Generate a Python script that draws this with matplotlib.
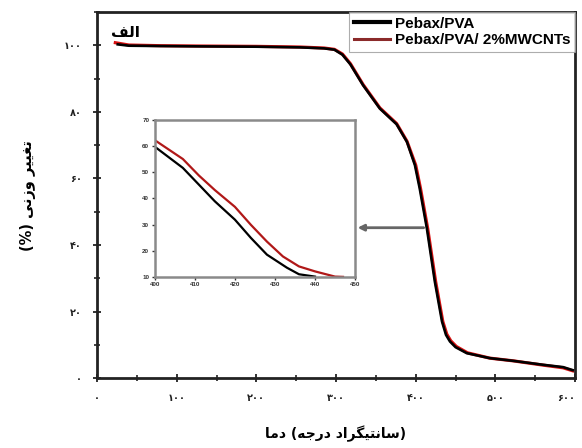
import matplotlib
matplotlib.use("Agg")
import matplotlib.pyplot as plt
from matplotlib.ticker import MultipleLocator

# TGA curves (main plot)
temp_pva = [26, 40, 80, 130, 200, 255, 285, 298, 308, 318, 334, 355, 376, 389, 399, 405,
            414, 424, 433, 438, 443, 450, 464, 493, 522, 560, 585, 597]
mass_pva = [100.3, 99.9, 99.8, 99.7, 99.6, 99.4, 99.1, 98.7, 97.2, 94.3, 88.0, 81.0, 76.3, 71.0, 64.0, 57.0,
            45.0, 29.0, 17.0, 13.0, 11.0, 9.3, 7.5, 6.0, 5.2, 4.0, 3.3, 2.4]
temp_cnt = [23, 40, 80, 130, 200, 255, 285, 298, 308, 318, 334, 355, 376, 389, 400, 406,
            415, 425, 434, 439, 444, 451, 465, 493, 522, 560, 585, 597]
mass_cnt = [100.8, 100.1, 99.9, 99.8, 99.7, 99.5, 99.2, 98.8, 97.4, 94.5, 88.2, 81.2, 76.5, 71.2, 64.0, 57.0,
            45.0, 29.0, 17.0, 13.2, 11.2, 9.5, 7.6, 6.0, 5.2, 3.9, 3.1, 2.2]

# zoomed inset 400-450 C
ins_temp_pva = [400, 407, 411, 415, 420, 424, 428, 433, 436, 440]
ins_mass_pva = [59.8, 51.7, 45.3, 38.9, 31.9, 24.9, 18.5, 13.5, 11.0, 10.1]
ins_temp_cnt = [400, 407, 411, 415, 420, 424, 428, 432, 436, 440, 445, 447]
ins_mass_cnt = [62.3, 55.1, 48.8, 43.2, 36.8, 29.9, 23.5, 17.8, 14.0, 12.1, 10.1, 10.0]

x_ticks = [0, 100, 200, 300, 400, 500, 600]
y_ticks = [0, 20, 40, 60, 80, 100]
ins_x_ticks = [400, 410, 420, 430, 440, 450]
ins_y_ticks = [10, 20, 30, 40, 50, 60, 70]

labels = ['Pebax/PVA', 'Pebax/PVA/ 2%MWCNTs']

# --- minimal Persian shaping (matplotlib has no bidi / joining) ---
FORMS = {  # isolated, final, initial, medial
    'ا': ('\uFE8D', '\uFE8E', '\uFE8D', '\uFE8E'),
    'ت': ('\uFE95', '\uFE96', '\uFE97', '\uFE98'),
    'ج': ('\uFE9D', '\uFE9E', '\uFE9F', '\uFEA0'),
    'د': ('\uFEA9', '\uFEAA', '\uFEA9', '\uFEAA'),
    'ر': ('\uFEAD', '\uFEAE', '\uFEAD', '\uFEAE'),
    'ز': ('\uFEAF', '\uFEB0', '\uFEAF', '\uFEB0'),
    'س': ('\uFEB1', '\uFEB2', '\uFEB3', '\uFEB4'),
    'غ': ('\uFECD', '\uFECE', '\uFECF', '\uFED0'),
    'ف': ('\uFED1', '\uFED2', '\uFED3', '\uFED4'),
    'ل': ('\uFEDD', '\uFEDE', '\uFEDF', '\uFEE0'),
    'م': ('\uFEE1', '\uFEE2', '\uFEE3', '\uFEE4'),
    'ن': ('\uFEE5', '\uFEE6', '\uFEE7', '\uFEE8'),
    'ه': ('\uFEE9', '\uFEEA', '\uFEEB', '\uFEEC'),
    'و': ('\uFEED', '\uFEEE', '\uFEED', '\uFEEE'),
    'ی': ('\uFEEF', '\uFEF0', '\uFEF3', '\uFEF4'),
    'گ': ('\uFB92', '\uFB93', '\uFB94', '\uFB95'),
}
DUAL = set('تجسغفلمنهیگ')


def fa(word):
    out = []
    for i, ch in enumerate(word):
        if ch not in FORMS:
            out.append(ch)
            continue
        prev = word[i - 1] if i > 0 else ''
        nxt = word[i + 1] if i + 1 < len(word) else ''
        jp = prev in DUAL
        jn = ch in DUAL and nxt in FORMS
        iso, fin, ini, med = FORMS[ch]
        out.append(med if jp and jn else fin if jp else ini if jn else iso)
    return ''.join(reversed(out))


def fa_num(n):
    return str(n).translate(str.maketrans('0123456789', '۰۱۲۳۴۵۶۷۸۹'))


fa_font = ['DejaVu Sans']
lat_font = ['Liberation Sans', 'DejaVu Sans']

fig = plt.figure(figsize=(5.82, 4.48), dpi=100)
ax = fig.add_axes([0.1667, 0.156, 0.8214, 0.817])

ax.plot(temp_cnt, mass_cnt, color='#d81010', lw=2.3, label=labels[1], zorder=2)
ax.plot(temp_pva, mass_pva, color='black', lw=1.9, label=labels[0], zorder=3)

ax.set_xlim(0, 600)
ax.set_ylim(0, 110)
ax.set_xticks(x_ticks)
ax.set_yticks(y_ticks)
ax.xaxis.set_minor_locator(MultipleLocator(50))
ax.yaxis.set_minor_locator(MultipleLocator(10))
ax.set_xticklabels([fa_num(v) for v in x_ticks], fontsize=7, fontweight='bold', family=fa_font)
ax.set_yticklabels([fa_num(v) for v in y_ticks], fontsize=7, fontweight='bold', family=fa_font)
ax.get_xticklabels()[-1].set_horizontalalignment('right')
ax.tick_params(which='major', direction='inout', length=6, width=1.3, pad=8, colors='#222')
ax.tick_params(which='minor', direction='inout', length=4, width=1.2, colors='#222')
for s in ax.spines.values():
    s.set_linewidth(2)
    s.set_color('#222')

ax.set_xlabel(f"{fa('دما')} ({fa('درجه')} {fa('سانتیگراد')})", fontsize=10,
              fontweight='bold', family=fa_font, labelpad=16)
ylab = ' '.join(['(%)', fa('وزنی'), fa('تغییر')])
ax.set_ylabel(ylab, fontsize=10.5, fontweight='bold', family=fa_font, labelpad=20)
ax.text(0.06, 0.945, fa('الف'), transform=ax.transAxes, ha='center', va='center',
        fontsize=11, fontweight='bold', family=fa_font)

# legend: black first, then dark red sample line
handles, _ = ax.get_legend_handles_labels()
leg = ax.legend(handles[::-1], [labels[0], labels[1]], loc='upper right', borderaxespad=0,
                frameon=True, fancybox=False, handlelength=2.4, handletextpad=0.3,
                borderpad=0.3, labelspacing=0.15,
                prop={'family': lat_font, 'weight': 'bold', 'size': 11})
leg.get_frame().set_edgecolor('#999')
leg.get_frame().set_linewidth(0.8)
leg.legend_handles[0].set_linewidth(3)
leg.legend_handles[1].set_color('#8b2a2a')
leg.legend_handles[1].set_linewidth(2.2)

ax.annotate('', xy=(327, 45.2), xytext=(410, 45.2),
            arrowprops=dict(arrowstyle='-|>', color='#666', lw=2, mutation_scale=9,
                            shrinkA=0, shrinkB=0))

# inset
ins = fig.add_axes([0.266, 0.382, 0.344, 0.350])
ins.plot(ins_temp_cnt, ins_mass_cnt, color='#b01818', lw=1.6)
ins.plot(ins_temp_pva, ins_mass_pva, color='black', lw=1.6)
ins.set_xlim(400, 450)
ins.set_ylim(10, 70)
ins.set_xticks(ins_x_ticks)
ins.set_yticks(ins_y_ticks)
ins.set_xticklabels([str(v) for v in ins_x_ticks], fontsize=4.5, fontweight='bold', family=lat_font)
ins.set_yticklabels([str(v) for v in ins_y_ticks], fontsize=4.5, fontweight='bold', family=lat_font)
ins.tick_params(direction='out', length=2, width=1, pad=2, colors='#333')
for s in ins.spines.values():
    s.set_linewidth(1.8)
    s.set_color('#8a8a8a')

fig.savefig('out.png', dpi=100)
